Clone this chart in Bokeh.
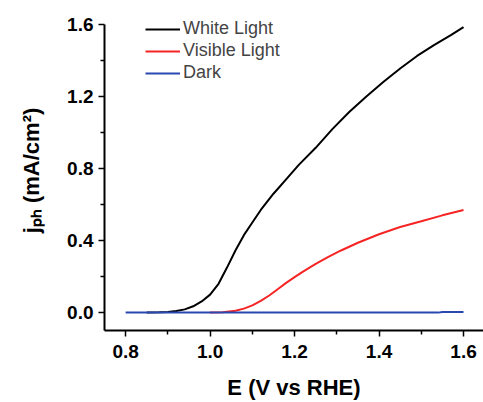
from bokeh.plotting import figure
from bokeh.models import FixedTicker, Legend, LegendItem, Range1d
from bokeh.embed import file_html
from bokeh.resources import INLINE

# ---- data ----
E_white = [0.85, 0.88, 0.90, 0.92, 0.94, 0.96, 0.98, 1.00, 1.02, 1.04, 1.06, 1.08,
           1.10, 1.12, 1.15, 1.18, 1.21, 1.25, 1.29, 1.33, 1.37, 1.41, 1.45, 1.49,
           1.53, 1.57, 1.60]
j_white = [0.0, 0.002, 0.004, 0.009, 0.018, 0.035, 0.062, 0.10, 0.16, 0.25, 0.345, 0.43,
           0.50, 0.57, 0.66, 0.74, 0.82, 0.915, 1.02, 1.115, 1.20, 1.28, 1.355, 1.425,
           1.485, 1.54, 1.585]

E_visible = [1.00, 1.03, 1.06, 1.08, 1.10, 1.12, 1.14, 1.16, 1.18, 1.20, 1.22, 1.25,
             1.28, 1.31, 1.35, 1.40, 1.45, 1.50, 1.55, 1.60]
j_visible = [0.0, 0.002, 0.01, 0.022, 0.04, 0.065, 0.095, 0.13, 0.165, 0.197, 0.228, 0.27,
             0.31, 0.345, 0.388, 0.435, 0.475, 0.507, 0.54, 0.57]

E_dark = [0.80, 1.00, 1.20, 1.40, 1.54, 1.55, 1.60]
j_dark = [0.0, 0.0, 0.0, 0.0, 0.0, 0.004, 0.004]

series_names = ["White Light", "Visible Light", "Dark"]
series_colors = ["#000000", "#f52525", "#2a48b0"]

x_major = [0.8, 1.0, 1.2, 1.4, 1.6]
x_minor = [0.9, 1.1, 1.3, 1.5]
y_major = [0.0, 0.4, 0.8, 1.2, 1.6]
y_minor = [0.2, 0.6, 1.0, 1.4]

FONT = "Liberation Sans"

y_lo, y_hi = -0.0993, 1.6772
p = figure(width=483, height=402, output_backend="svg", toolbar_location=None,
           x_range=Range1d(0.75, 1.6473), y_range=Range1d(y_lo, y_hi),
           min_border_left=104, min_border_right=0, min_border_top=10, min_border_bottom=70)
p.outline_line_color = None
p.grid.grid_line_color = None
p.background_fill_color = "white"

r1 = p.line(E_white, j_white, line_color=series_colors[0], line_width=2)
r2 = p.line(E_visible, j_visible, line_color=series_colors[1], line_width=2)
r3 = p.line(E_dark, j_dark, line_color=series_colors[2], line_width=2)

for ax in (p.xaxis[0], p.yaxis[0]):
    ax.axis_line_width = 2
    ax.axis_line_color = "black"
    ax.major_tick_line_width = 1.5
    ax.minor_tick_line_width = 1.5
    ax.major_tick_out = 6
    ax.major_tick_in = 0
    ax.minor_tick_out = 4
    ax.minor_tick_in = 0
    ax.major_label_text_font = FONT
    ax.major_label_text_font_style = "bold"
    ax.major_label_text_font_size = "19px"
    ax.major_label_text_color = "black"
    ax.axis_label_text_font = FONT
    ax.axis_label_text_font_style = "bold"
    ax.axis_label_text_font_size = "22px"
    ax.axis_label_text_color = "black"

p.xaxis[0].ticker = FixedTicker(ticks=x_major, minor_ticks=x_minor)
p.yaxis[0].ticker = FixedTicker(ticks=y_major, minor_ticks=y_minor)
p.yaxis[0].bounds = (y_lo, y_major[-1])
p.xaxis[0].major_label_overrides = {v: f"{v:.1f}" for v in x_major}
p.yaxis[0].major_label_overrides = {v: f"{v:.1f}" for v in y_major}
p.xaxis[0].axis_label = "E (V vs RHE)"
p.yaxis[0].axis_label = "j\u209a\u2095 (mA/cm\u00b2)"
p.xaxis[0].major_label_standoff = 8
p.xaxis[0].axis_label_standoff = 14
p.yaxis[0].major_label_standoff = 5
p.yaxis[0].axis_label_standoff = 20

legend = Legend(items=[LegendItem(label=series_names[0], renderers=[r1]),
                       LegendItem(label=series_names[1], renderers=[r2]),
                       LegendItem(label=series_names[2], renderers=[r3])],
                location=(41, 247), padding=0, margin=0, spacing=1,
                glyph_width=35, glyph_height=20, label_height=20, label_standoff=3,
                label_text_font=FONT, label_text_font_size="18px",
                border_line_color=None, background_fill_alpha=0)
p.add_layout(legend, "center")

open("out.html", "w").write(file_html(p, INLINE))
